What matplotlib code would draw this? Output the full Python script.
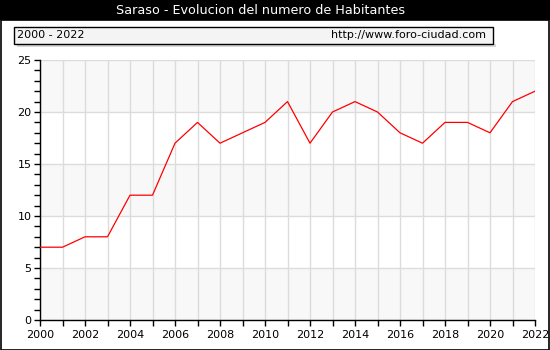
import matplotlib
matplotlib.use('Agg')
import matplotlib.pyplot as plt
from matplotlib.patches import Rectangle

years = list(range(2000, 2023))
habitantes = [7, 7, 8, 8, 12, 12, 17, 19, 17, 18, 19, 21, 17, 20, 21, 20,
              18, 17, 19, 19, 18, 21, 22]
x_ticks = list(range(2000, 2023, 2))
y_ticks = [0, 5, 10, 15, 20, 25]

W, H = 550, 350
fig = plt.figure(figsize=(W / 100, H / 100), dpi=100)
fig.patch.set_facecolor('white')

# title bar and outer frame
fig.patches.append(Rectangle((0, 1 - 20 / H), 1, 20 / H, transform=fig.transFigure,
                             facecolor='black', edgecolor='none'))
fig.patches.append(Rectangle((0.5 / W, 0.5 / H), 1 - 1.5 / W, 1 - 20 / H - 0.5 / H,
                             transform=fig.transFigure, facecolor='none',
                             edgecolor='black', linewidth=1.2))
fig.text(260.5 / W, 1 - 11 / H, 'Saraso - Evolucion del numero de Habitantes',
         color='white', ha='center', va='center', fontsize=9.2)

# period / source box
fig.patches.append(Rectangle((14 / W, 1 - 44 / H), (493 - 14) / W, 17 / H,
                             transform=fig.transFigure, facecolor='#f4f4f4',
                             edgecolor='black', linewidth=1))
fig.patches.append(Rectangle((17 / W, 1 - 47 / H), (493 - 14) / W, 3 / H,
                             transform=fig.transFigure, facecolor='#d8d8d8',
                             edgecolor='none', zorder=-1))
fig.text(17 / W, 1 - 35.5 / H, '2000 - 2022', ha='left', va='center', fontsize=8)
fig.text(486 / W, 1 - 35.5 / H, 'http://www.foro-ciudad.com', ha='right',
         va='center', fontsize=8)

ax = fig.add_axes([40 / W, 30 / H, (535 - 40) / W, (320 - 60) / H])
ax.set_xlim(2000, 2022)
ax.set_ylim(0, 25)

# alternating horizontal bands
for lo in range(0, 25, 5):
    if (lo // 5) % 2 == 0:
        ax.axhspan(lo, lo + 5, facecolor='#f8f8f8', edgecolor='none', zorder=0)

for yr in years:
    ax.axvline(yr, color='#dcdcdc', linewidth=1, zorder=1)
for yv in y_ticks:
    ax.axhline(yv, color='#dcdcdc', linewidth=1, zorder=1)

ax.plot(years, habitantes, color='red', linewidth=0.9, zorder=3)

ax.set_xticks(x_ticks)
ax.set_xticks(years, minor=True)
ax.set_yticks(y_ticks)
ax.set_yticks(range(0, 26), minor=True)
ax.tick_params(axis='both', which='both', direction='out', length=4, width=1,
               labelsize=8, pad=2)
ax.tick_params(axis='x', which='major', pad=3)

for side in ['top', 'right']:
    ax.spines[side].set_visible(False)
for side in ['left', 'bottom']:
    ax.spines[side].set_linewidth(1)

fig.savefig('out.png', dpi=100)
